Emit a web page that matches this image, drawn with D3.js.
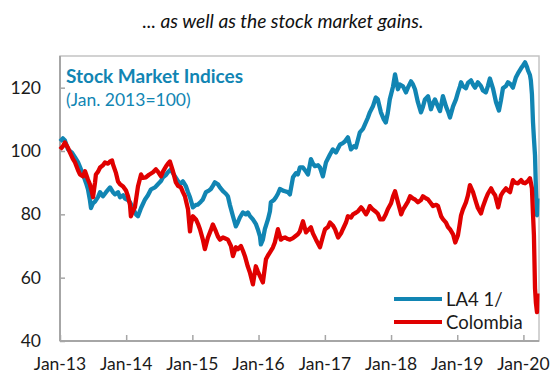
<!DOCTYPE html>
<html>
<head>
<meta charset="utf-8">
<script src="https://cdn.jsdelivr.net/npm/d3@7/dist/d3.min.js"></script>
<style>
  html, body { margin: 0; padding: 0; background: #fff; }
  svg { display: block; font-family: Lato, "Noto Sans", sans-serif; }
</style>
</head>
<body>
<svg id="chart" width="551" height="375"></svg>
<script>
// Stock market indices, Jan. 2013 = 100
const la4 = [
  ["2013-01-02",103.0],["2013-01-17",104.0],["2013-01-28",103.3],["2013-02-14",100.5],["2013-03-08",99.5],
  ["2013-03-25",98.0],["2013-04-10",96.5],["2013-04-21",95.0],["2013-05-08",92.6],["2013-05-24",90.0],
  ["2013-06-04",88.0],["2013-06-15",84.5],["2013-06-21",82.0],["2013-07-02",83.5],["2013-07-13",84.0],
  ["2013-07-30",85.5],["2013-08-10",87.0],["2013-08-26",85.7],["2013-09-12",87.0],["2013-10-04",88.5],
  ["2013-10-20",87.0],["2013-11-01",86.3],["2013-11-17",87.0],["2013-11-28",85.4],["2013-12-15",86.0],
  ["2013-12-26",85.0],["2014-01-11",84.5],["2014-01-22",83.8],["2014-02-07",82.0],["2014-02-24",80.0],
  ["2014-03-07",79.4],["2014-03-24",82.0],["2014-04-15",84.7],["2014-05-01",86.0],["2014-05-18",87.9],
  ["2014-06-09",88.5],["2014-06-25",89.5],["2014-07-12",90.5],["2014-07-23",91.7],["2014-08-09",92.5],
  ["2014-08-19",93.3],["2014-09-05",94.2],["2014-09-16",93.0],["2014-09-27",92.0],["2014-10-14",90.5],
  ["2014-10-25",89.5],["2014-11-10",90.4],["2014-11-27",88.8],["2014-12-08",87.0],["2014-12-19",85.4],
  ["2015-01-04",82.2],["2015-01-21",83.0],["2015-02-01",83.1],["2015-02-17",84.0],["2015-02-28",84.7],
  ["2015-03-17",87.0],["2015-04-02",87.5],["2015-04-13",88.0],["2015-04-24",89.0],["2015-05-05",90.1],
  ["2015-05-22",89.5],["2015-06-02",88.5],["2015-06-19",87.3],["2015-07-05",86.5],["2015-07-16",85.7],
  ["2015-07-27",83.0],["2015-08-13",79.4],["2015-08-29",76.2],["2015-09-09",77.5],["2015-09-20",79.0],
  ["2015-10-07",80.6],["2015-10-23",80.0],["2015-11-03",80.6],["2015-11-14",79.5],["2015-12-01",78.4],
  ["2015-12-17",77.0],["2015-12-28",75.3],["2016-01-09",73.0],["2016-01-14",70.5],["2016-01-25",72.0],
  ["2016-02-05",75.3],["2016-02-22",78.4],["2016-03-04",81.0],["2016-03-09",83.8],["2016-03-26",84.5],
  ["2016-04-06",85.4],["2016-04-17",86.5],["2016-04-28",88.0],["2016-05-15",87.5],["2016-05-26",87.3],
  ["2016-06-11",87.0],["2016-06-22",86.3],["2016-07-09",91.7],["2016-07-25",93.0],["2016-08-05",92.6],
  ["2016-08-16",94.8],["2016-09-02",94.8],["2016-09-19",93.5],["2016-09-30",92.6],["2016-10-16",97.4],
  ["2016-10-27",96.0],["2016-11-07",95.2],["2016-11-24",95.5],["2016-12-05",94.8],["2016-12-21",92.0],
  ["2017-01-07",96.4],["2017-01-29",98.9],["2017-02-14",100.5],["2017-03-03",99.5],["2017-03-25",102.0],
  ["2017-04-10",102.5],["2017-04-21",103.0],["2017-05-08",104.3],["2017-05-25",100.5],["2017-06-10",101.5],
  ["2017-06-21",101.1],["2017-07-13",105.9],["2017-07-30",107.0],["2017-08-10",108.4],["2017-08-26",110.5],
  ["2017-09-06",112.2],["2017-09-23",114.1],["2017-10-09",116.9],["2017-10-20",116.3],["2017-11-06",112.2],
  ["2017-11-22",110.0],["2017-12-03",109.0],["2017-12-14",112.0],["2017-12-25",116.3],["2018-01-12",120.4],
  ["2018-01-23",124.2],["2018-02-08",119.5],["2018-02-19",121.0],["2018-03-08",120.4],["2018-03-24",118.5],
  ["2018-04-04",120.0],["2018-04-21",122.0],["2018-05-02",121.0],["2018-05-13",119.5],["2018-05-29",115.4],
  ["2018-06-15",112.2],["2018-06-26",114.0],["2018-07-07",116.3],["2018-07-24",117.3],["2018-08-09",113.2],
  ["2018-08-20",115.0],["2018-08-31",116.3],["2018-09-17",114.0],["2018-09-28",112.6],["2018-10-14",117.3],
  ["2018-10-31",114.1],["2018-11-11",112.5],["2018-11-22",110.6],["2018-12-09",114.1],["2018-12-25",116.3],
  ["2019-01-05",118.5],["2019-01-16",120.4],["2019-01-22",121.7],["2019-02-01",120.5],["2019-02-18",119.8],
  ["2019-03-01",121.5],["2019-03-18",122.3],["2019-03-29",121.0],["2019-04-09",120.0],["2019-04-25",121.7],
  ["2019-05-12",120.5],["2019-05-23",119.1],["2019-06-08",118.5],["2019-06-19",120.5],["2019-06-30",122.9],
  ["2019-07-17",119.8],["2019-08-03",115.4],["2019-08-19",112.8],["2019-08-30",116.0],["2019-09-10",119.8],
  ["2019-09-27",120.5],["2019-10-08",121.7],["2019-10-24",121.0],["2019-11-04",120.0],["2019-11-21",123.3],
  ["2019-12-02",124.5],["2019-12-19",126.1],["2019-12-30",127.0],["2020-01-10",128.0],["2020-01-21",126.5],
  ["2020-01-26",125.5],["2020-02-06",124.0],["2020-02-11",122.3],["2020-02-17",118.0],["2020-02-23",109.0],
  ["2020-02-28",104.0],["2020-03-05",98.6],["2020-03-10",88.0],["2020-03-16",79.7],["2020-03-18",85.0]
];

const colombia = [
  ["2013-01-02",100.5],["2013-01-17",101.5],["2013-01-28",102.7],["2013-02-14",101.0],["2013-02-25",99.5],
  ["2013-03-13",97.5],["2013-03-25",96.4],["2013-04-10",94.0],["2013-04-21",92.6],["2013-05-08",92.0],
  ["2013-05-19",93.6],["2013-06-04",91.0],["2013-06-15",89.5],["2013-06-26",87.0],["2013-07-02",85.4],
  ["2013-07-13",90.0],["2013-07-18",92.6],["2013-07-30",93.5],["2013-08-10",94.8],["2013-08-26",95.5],
  ["2013-09-06",96.4],["2013-09-23",96.0],["2013-10-04",96.7],["2013-10-15",97.0],["2013-10-20",95.8],
  ["2013-11-06",93.0],["2013-11-17",90.4],["2013-11-28",89.5],["2013-12-15",88.8],["2013-12-31",87.5],
  ["2014-01-11",85.7],["2014-01-22",83.0],["2014-01-27",79.4],["2014-02-07",81.0],["2014-02-18",82.2],
  ["2014-03-07",88.8],["2014-03-24",92.6],["2014-04-03",91.5],["2014-04-20",91.7],["2014-05-07",92.5],
  ["2014-05-29",93.3],["2014-06-14",94.2],["2014-06-25",93.5],["2014-07-12",92.0],["2014-07-23",93.5],
  ["2014-08-09",95.2],["2014-08-19",96.0],["2014-08-30",96.7],["2014-09-16",93.6],["2014-10-02",90.1],
  ["2014-10-14",89.0],["2014-10-30",88.5],["2014-11-10",87.0],["2014-11-21",85.7],["2014-12-08",81.6],
  ["2014-12-19",74.6],["2014-12-24",77.0],["2015-01-04",79.4],["2015-01-21",78.4],["2015-02-01",77.0],
  ["2015-02-12",75.3],["2015-02-28",72.0],["2015-03-11",69.0],["2015-03-28",72.7],["2015-04-13",75.0],
  ["2015-04-24",76.8],["2015-05-11",74.6],["2015-05-22",73.0],["2015-06-02",72.0],["2015-06-19",72.7],
  ["2015-07-05",72.3],["2015-07-16",72.0],["2015-08-02",70.0],["2015-08-13",66.8],["2015-08-29",69.6],
  ["2015-09-09",69.0],["2015-09-26",70.0],["2015-10-07",68.5],["2015-10-18",66.8],["2015-11-03",63.5],
  ["2015-11-14",61.7],["2015-12-01",57.9],["2015-12-17",63.6],["2015-12-28",62.0],["2016-01-09",60.5],
  ["2016-01-25",58.5],["2016-02-11",65.8],["2016-02-22",67.0],["2016-03-04",68.0],["2016-03-20",69.5],
  ["2016-03-31",71.1],["2016-04-17",75.3],["2016-05-03",72.0],["2016-05-15",72.5],["2016-05-26",72.7],
  ["2016-06-11",72.2],["2016-06-22",72.0],["2016-07-09",72.5],["2016-07-20",73.0],["2016-08-05",73.7],
  ["2016-08-16",74.6],["2016-09-02",77.8],["2016-09-19",74.3],["2016-09-30",75.0],["2016-10-16",75.9],
  ["2016-10-27",74.0],["2016-11-13",72.0],["2016-12-05",69.6],["2016-12-21",73.0],["2017-01-02",75.3],
  ["2017-01-18",76.0],["2017-01-29",77.4],["2017-02-14",76.5],["2017-02-26",75.3],["2017-03-15",72.7],
  ["2017-03-31",74.0],["2017-04-10",75.3],["2017-04-28",77.5],["2017-05-08",79.4],["2017-05-25",79.0],
  ["2017-06-05",80.0],["2017-06-21",80.5],["2017-07-03",81.0],["2017-07-20",82.2],["2017-07-30",81.5],
  ["2017-08-16",80.0],["2017-08-26",81.0],["2017-09-06",82.6],["2017-09-23",81.5],["2017-10-05",81.0],
  ["2017-10-20",80.2],["2017-11-02",78.4],["2017-11-18",78.4],["2017-12-03",80.0],["2017-12-14",81.6],
  ["2018-01-01",83.5],["2018-01-12",85.7],["2018-01-23",87.3],["2018-02-08",83.8],["2018-02-26",80.0],
  ["2018-03-08",81.5],["2018-03-20",82.6],["2018-04-04",84.0],["2018-04-16",85.7],["2018-05-02",85.0],
  ["2018-05-13",84.7],["2018-05-29",83.8],["2018-06-15",84.5],["2018-06-26",85.7],["2018-07-14",85.0],
  ["2018-07-24",84.7],["2018-08-09",83.5],["2018-08-20",82.6],["2018-09-07",83.0],["2018-09-17",82.6],
  ["2018-10-04",79.4],["2018-10-14",78.5],["2018-10-31",77.4],["2018-11-11",76.0],["2018-11-22",75.3],
  ["2018-12-09",73.7],["2018-12-21",71.1],["2019-01-05",73.4],["2019-01-16",77.4],["2019-01-22",79.7],
  ["2019-02-01",81.5],["2019-02-18",83.8],["2019-03-01",86.0],["2019-03-12",89.2],["2019-03-29",87.0],
  ["2019-04-15",83.8],["2019-04-25",82.0],["2019-05-12",80.3],["2019-05-23",82.5],["2019-06-08",85.0],
  ["2019-06-19",86.5],["2019-07-07",88.2],["2019-07-17",87.0],["2019-07-29",86.0],["2019-08-15",82.2],
  ["2019-08-30",86.0],["2019-09-10",87.0],["2019-09-27",88.2],["2019-10-08",87.5],["2019-10-19",87.0],
  ["2019-11-04",90.8],["2019-11-16",90.0],["2019-12-02",89.8],["2019-12-19",90.8],["2019-12-30",90.0],
  ["2020-01-10",89.8],["2020-01-26",90.5],["2020-02-06",91.4],["2020-02-11",90.0],["2020-02-17",88.2],
  ["2020-02-23",80.0],["2020-02-28",73.4],["2020-03-05",56.7],["2020-03-10",52.0],["2020-03-16",49.1],
  ["2020-03-18",55.0]
];

const yTicks = [40, 60, 80, 100, 120];
const xTicks = ["2013-01-01","2014-01-01","2015-01-01","2016-01-01","2017-01-01","2018-01-01","2019-01-01","2020-01-01"];
const series = [
  { name: "LA4 1/", data: la4, color: "#1185b3" },
  { name: "Colombia", data: colombia, color: "#e00000" }
];

const parse = d3.timeParse("%Y-%m-%d");
const svg = d3.select("#chart");
const m = { left: 60, top: 56, right: 539, bottom: 341 };

const x = d3.scaleTime()
  .domain([parse("2013-01-01"), parse("2020-03-27")])
  .range([m.left, m.right]);
const y = d3.scaleLinear().domain([40, 130]).range([m.bottom, m.top]);

// heading above the panel
svg.append("text")
  .attr("x", 283).attr("y", 28)
  .attr("text-anchor", "middle")
  .attr("font-style", "italic")
  .attr("font-size", 19.2)
  .attr("fill", "#111")
  .text("... as well as the stock market gains.");

// panel frame
svg.append("rect")
  .attr("x", m.left).attr("y", m.top)
  .attr("width", m.right - m.left).attr("height", m.bottom - m.top)
  .attr("fill", "none").attr("stroke", "#c4c4c4").attr("stroke-width", 1.5);

// y axis with inward ticks
const yAxis = svg.append("g")
  .attr("transform", `translate(${m.left},0)`)
  .call(d3.axisRight(y).tickValues(yTicks).tickSize(5).tickFormat(""));
yAxis.select(".domain").remove();
yAxis.selectAll(".tick line").attr("stroke", "#a6a6a6").attr("stroke-width", 1.5);

svg.selectAll(".ylab").data(yTicks).join("text")
  .attr("class", "ylab")
  .attr("x", 41).attr("y", d => y(d) + 6)
  .attr("text-anchor", "end")
  .attr("font-size", 17.5)
  .attr("fill", "#1a1a1a")
  .text(d => d);

// x axis with inward ticks
const fmt = d3.timeFormat("%b-%y");
const xAxis = svg.append("g")
  .attr("transform", `translate(0,${m.bottom})`)
  .call(d3.axisTop(x).tickValues(xTicks.map(parse)).tickSize(6).tickFormat(""));
xAxis.select(".domain").remove();
xAxis.selectAll(".tick line").attr("stroke", "#a6a6a6").attr("stroke-width", 1.5);

svg.selectAll(".xlab").data(xTicks.map(parse)).join("text")
  .attr("class", "xlab")
  .attr("x", d => x(d)).attr("y", 370)
  .attr("text-anchor", "middle")
  .attr("font-size", 17.5)
  .attr("fill", "#1a1a1a")
  .text(d => fmt(d));

// axis lines
svg.append("line").attr("x1", m.left).attr("x2", m.left).attr("y1", m.top).attr("y2", m.bottom)
  .attr("stroke", "#a6a6a6").attr("stroke-width", 2);
svg.append("line").attr("x1", m.left).attr("x2", m.right).attr("y1", m.bottom).attr("y2", m.bottom)
  .attr("stroke", "#a6a6a6").attr("stroke-width", 2);

// index lines
const line = d3.line()
  .x(d => x(parse(d[0])))
  .y(d => y(d[1]));

svg.selectAll(".series").data(series).join("path")
  .attr("class", "series")
  .attr("d", d => line(d.data))
  .attr("fill", "none")
  .attr("stroke", d => d.color)
  .attr("stroke-width", 4.3)
  .attr("stroke-linejoin", "round");

// panel title
svg.append("text")
  .attr("x", 66).attr("y", 83)
  .attr("font-size", 19).attr("font-weight", "bold")
  .attr("fill", "#1185b3")
  .text("Stock Market Indices");
svg.append("text")
  .attr("x", 66).attr("y", 106)
  .attr("font-size", 17.5)
  .attr("fill", "#1185b3")
  .text("(Jan. 2013=100)");

// legend
const leg = svg.selectAll(".leg").data(series).join("g")
  .attr("class", "leg")
  .attr("transform", (d, i) => `translate(394,${299 + i * 23})`);
leg.append("line").attr("x1", 0).attr("x2", 48)
  .attr("stroke", d => d.color).attr("stroke-width", 4);
leg.append("text").attr("x", 52).attr("y", 6.5)
  .attr("font-size", 18.5).attr("fill", "#1a1a1a")
  .text(d => d.name);
</script>
</body>
</html>
